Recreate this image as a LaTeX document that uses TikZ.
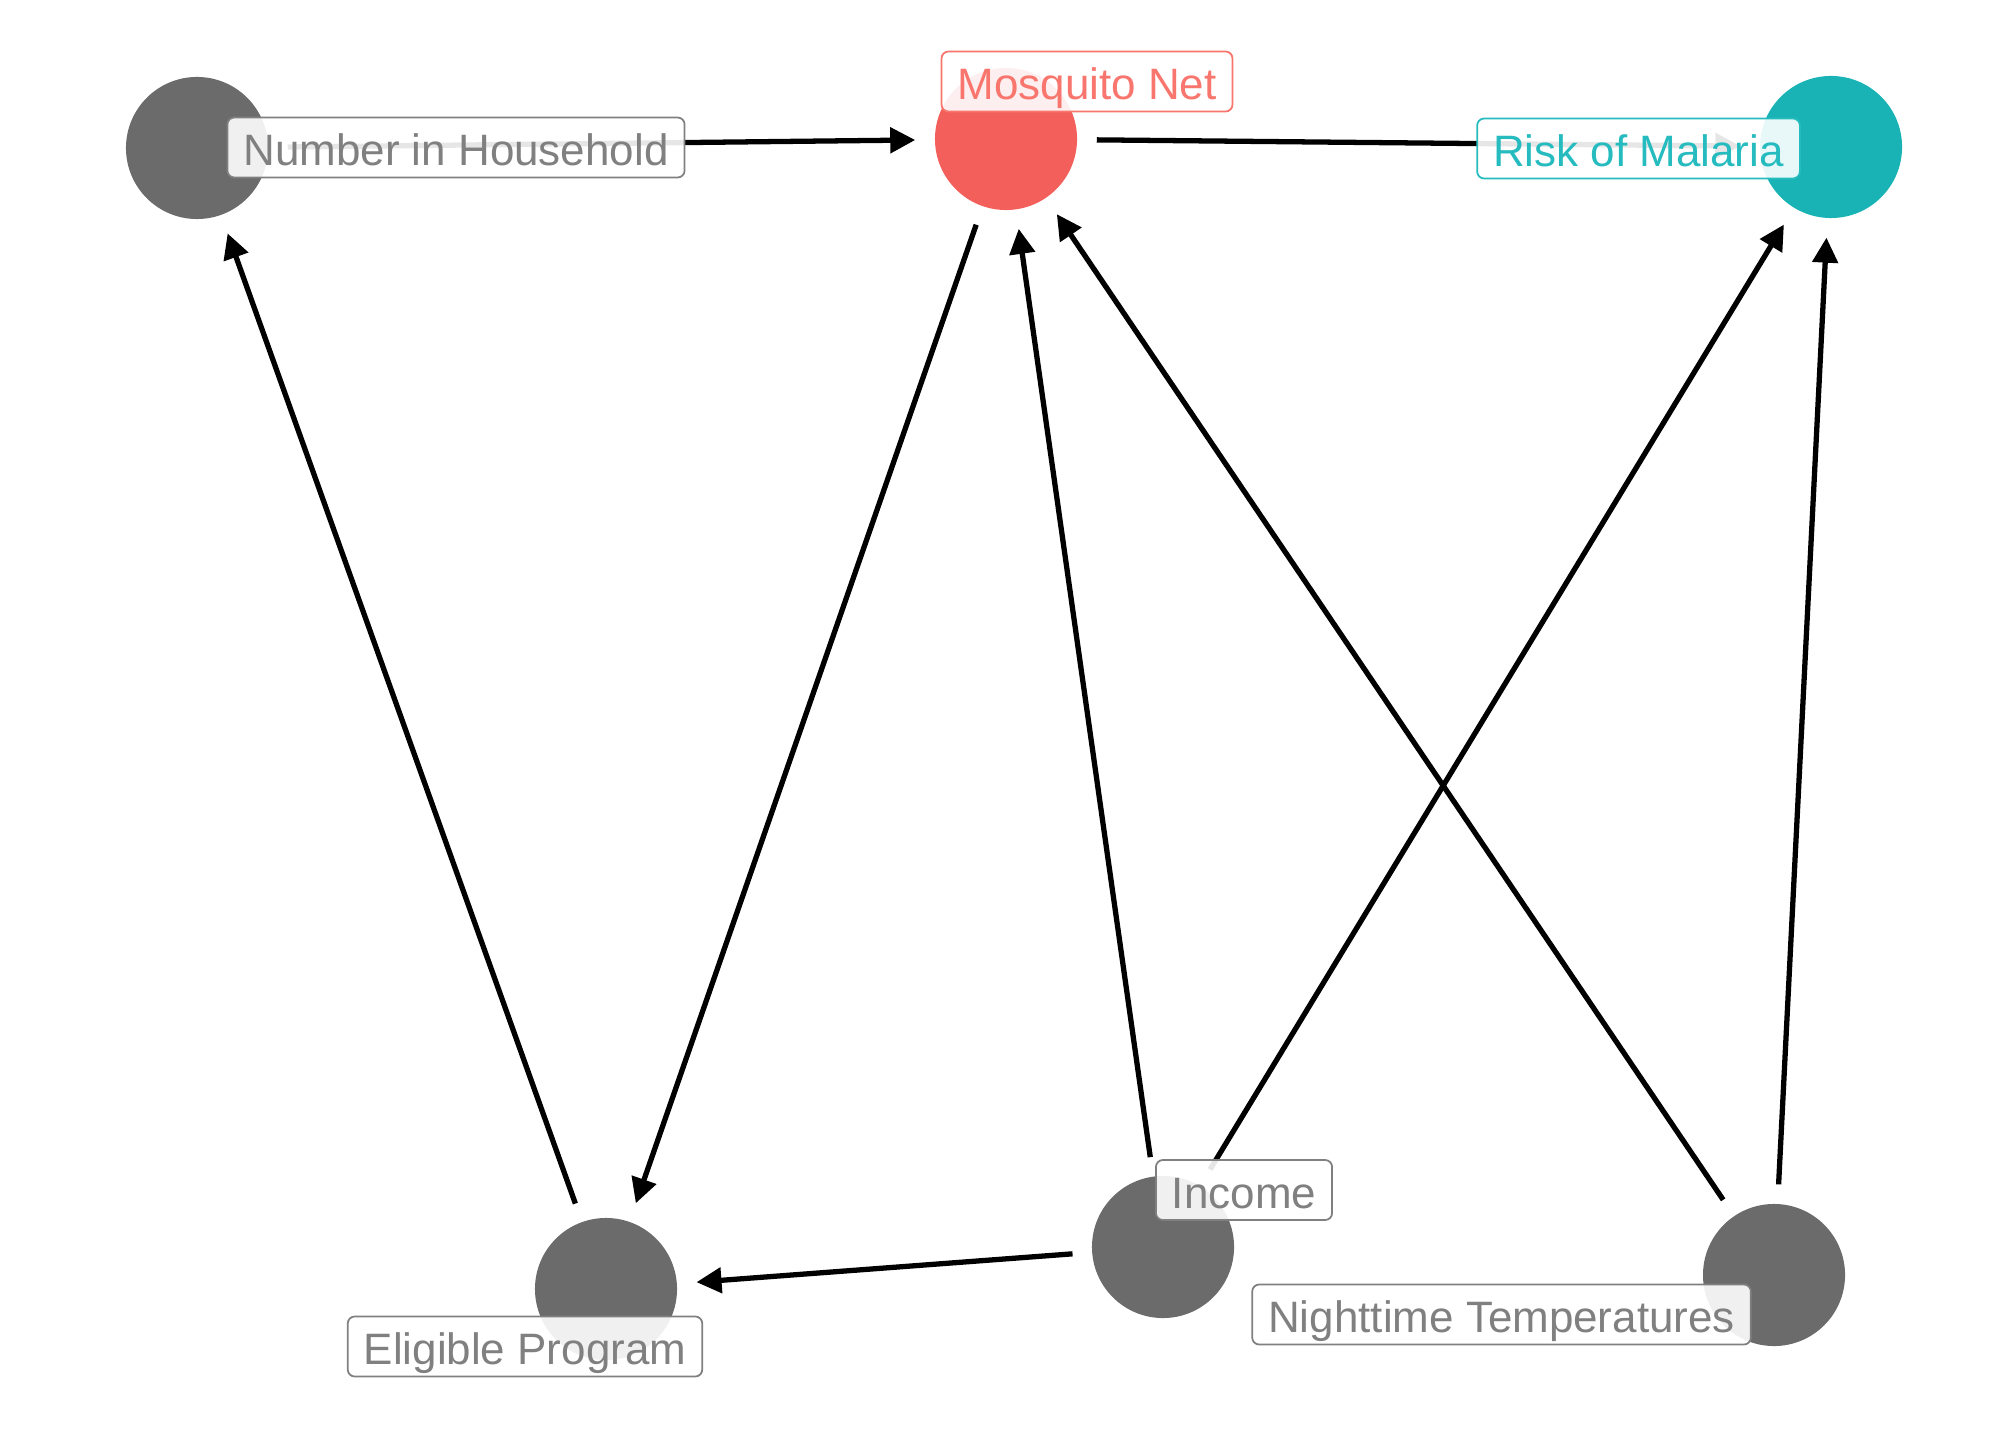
\documentclass[tikz,border=0pt]{standalone}
\usepackage{fontspec}
\setmainfont{Liberation Sans}
\usetikzlibrary{arrows.meta}
\definecolor{nodegray}{HTML}{6B6B6B}
\definecolor{netred}{HTML}{F3605C}
\definecolor{riskteal}{HTML}{19B3B6}
\definecolor{labgray}{HTML}{808080}
\definecolor{labred}{HTML}{F8766D}
\definecolor{labteal}{HTML}{26BCBF}
\tikzset{
  dagnode/.style={circle, minimum size=1.42cm, inner sep=0pt, draw=none},
  dagedge/.style={draw=black, line width=1.5pt, shorten <=0.19cm, shorten >=0.19cm,
    -{Triangle[length=0.25cm, width=0.25cm]}},
  daglabel/.style={rectangle, rounded corners=0.07cm, line width=0.5pt,
    fill=white, fill opacity=0.9, text opacity=1, draw opacity=1,
    inner xsep=0.16cm, inner ysep=0pt, text height=0.48cm, text depth=0.12cm,
    font=\fontsize{12.5pt}{14pt}\selectfont},
}
\begin{document}
\begin{tikzpicture}[x=0.01cm, y=-0.01cm]
\useasboundingbox (0,0) rectangle (2016,1440);
% nodes (circles)
\node[dagnode, fill=nodegray] (nih) at (197,148) {};
\node[dagnode, fill=netred] (mn) at (1006,139) {};
\node[dagnode, fill=riskteal] (rom) at (1831,147) {};
\node[dagnode, fill=nodegray] (ep) at (606,1289) {};
\node[dagnode, fill=nodegray] (inc) at (1163,1247) {};
\node[dagnode, fill=nodegray] (nt) at (1774,1275) {};
% edges
\draw[dagedge] (nih) -- (mn);
\draw[dagedge] (mn) -- (rom);
\draw[dagedge] (mn) -- (ep);
\draw[dagedge] (ep) -- (nih);
\draw[dagedge] (inc) -- (ep);
\draw[dagedge] (inc) -- (mn);
\draw[dagedge] (inc) -- (rom);
\draw[dagedge] (nt) -- (mn);
\draw[dagedge] (nt) -- (rom);
% labels
\node[daglabel, draw=labgray, text=labgray] (lnih) at (456,147.5) {Number in Household};
\node[daglabel, draw=labred, text=labred] (lmn) at (1087,81.5) {Mosquito Net};
\node[daglabel, draw=labteal, text=labteal] (lrom) at (1638.5,148.5) {Risk of Malaria};
\node[daglabel, draw=labgray, text=labgray] (lep) at (525,1346.5) {Eligible Program};
\node[daglabel, draw=labgray, text=labgray] (linc) at (1244,1190) {Income};
\node[daglabel, draw=labgray, text=labgray] (lnt) at (1501.5,1314.5) {Nighttime Temperatures};
\end{tikzpicture}
\end{document}
